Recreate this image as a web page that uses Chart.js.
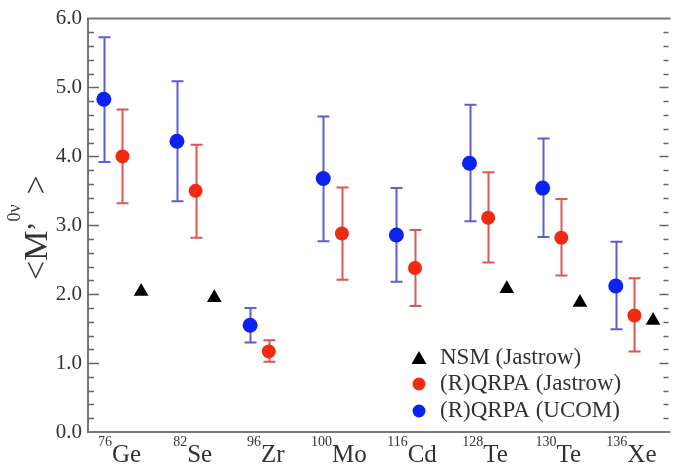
<!DOCTYPE html>
<html>
<head>
<meta charset="utf-8">
<script src="https://cdn.jsdelivr.net/npm/chart.js@4.4.1/dist/chart.umd.min.js"></script>
<style>
  html, body { margin: 0; padding: 0; background: #fff; }
  #wrap { width: 677px; height: 466px; }
</style>
</head>
<body>
<div id="wrap"><canvas id="nmeChart" width="677" height="466"></canvas></div>
<script>
// nuclei: mass number + element
const massNumbers = ['76', '82', '96', '100', '116', '128', '130', '136'];
const elements = ['Ge', 'Se', 'Zr', 'Mo', 'Cd', 'Te', 'Te', 'Xe'];

// (R)QRPA (UCOM) - blue
const ucomVal = [4.83, 4.22, 1.55, 3.68, 2.86, 3.90, 3.54, 2.12];
const ucomHi  = [5.73, 5.09, 1.80, 4.58, 3.54, 4.75, 4.26, 2.76];
const ucomLo  = [3.92, 3.35, 1.30, 2.77, 2.18, 3.06, 2.83, 1.49];

// (R)QRPA (Jastrow) - red
const jasVal = [4.00, 3.50, 1.17, 2.88, 2.38, 3.11, 2.82, 1.69];
const jasHi  = [4.68, 4.17, 1.33, 3.55, 2.93, 3.77, 3.38, 2.23];
const jasLo  = [3.32, 2.82, 1.02, 2.21, 1.83, 2.46, 2.27, 1.17];

// NSM (Jastrow) - black triangles
const nsmVal = [2.04, 1.95, null, null, null, 2.08, 1.88, 1.62];

const yTicks = [0, 1, 2, 3, 4, 5, 6];

const BLUE = '#0b22f2', RED = '#f22a12';
const BLUE_BAR = '#5b5fd2', RED_BAR = '#de5656';
const SHIFT = 0.255; // offset of blue / triangle from the red point

document.addEventListener("DOMContentLoaded", () => {
  const pts = (vals, dx) => vals.map((v, i) => v == null ? null : { x: i + dx, y: v }).filter(p => p);

  const extras = {
    id: 'extras',
    beforeDatasetsDraw(chart) {
      const { ctx, chartArea: a, scales: { x, y } } = chart;
      ctx.save();
      // frame
      ctx.strokeStyle = '#777';
      ctx.lineWidth = 2;
      ctx.beginPath();
      ctx.moveTo(a.right + 2, a.top); ctx.lineTo(a.left, a.top);
      ctx.lineTo(a.left, a.bottom); ctx.lineTo(a.right + 2, a.bottom);
      ctx.stroke();
      // inward ticks, left and right
      ctx.strokeStyle = '#666';
      ctx.lineWidth = 1.6;
      for (let k = 1; k < 30; k++) {
        const py = Math.round(y.getPixelForValue(k / 5)) + 0.5;
        const major = k % 5 === 0;
        ctx.beginPath();
        ctx.moveTo(a.left, py); ctx.lineTo(a.left + (major ? 11 : 6), py);
        ctx.moveTo(a.right, py); ctx.lineTo(a.right - (major ? 9 : 5), py);
        ctx.stroke();
      }
      // error bars
      const bars = (lo, hi, dx, col) => {
        ctx.strokeStyle = col;
        ctx.lineWidth = 2;
        lo.forEach((l, i) => {
          const px = Math.round(x.getPixelForValue(i + dx)) + 0.5;
          const p1 = y.getPixelForValue(l), p2 = y.getPixelForValue(hi[i]);
          ctx.beginPath();
          ctx.moveTo(px, p1); ctx.lineTo(px, p2);
          ctx.moveTo(px - 6, p1); ctx.lineTo(px + 6, p1);
          ctx.moveTo(px - 6, p2); ctx.lineTo(px + 6, p2);
          ctx.stroke();
        });
      };
      bars(ucomLo, ucomHi, -SHIFT, BLUE_BAR);
      bars(jasLo, jasHi, 0, RED_BAR);
      ctx.restore();
    },
    afterDraw(chart) {
      const { ctx, scales: { x } } = chart;
      ctx.save();
      ctx.fillStyle = '#333';
      ctx.textBaseline = 'alphabetic';
      ctx.textAlign = 'left';
      // x labels with superscript mass numbers
      massNumbers.forEach((m, i) => {
        ctx.font = '14px "Liberation Serif"';
        const w1 = ctx.measureText(m).width;
        ctx.font = '25px "Liberation Serif"';
        const w2 = ctx.measureText(elements[i]).width;
        const x0 = x.getPixelForValue(i) - 3 - (w1 + w2) / 2;
        ctx.font = '14px "Liberation Serif"';
        ctx.fillText(m, x0, 446);
        ctx.font = '25px "Liberation Serif"';
        ctx.fillText(elements[i], x0 + w1, 462);
      });

      // legend
      const lx = 419, tx = 440;
      const rows = [358, 384, 411];
      ctx.fillStyle = '#000';
      ctx.beginPath();
      ctx.moveTo(lx, rows[0] - 7); ctx.lineTo(lx + 7.5, rows[0] + 6); ctx.lineTo(lx - 7.5, rows[0] + 6);
      ctx.closePath(); ctx.fill();
      ctx.fillStyle = RED;
      ctx.beginPath(); ctx.arc(lx, rows[1], 6.5, 0, Math.PI * 2); ctx.fill();
      ctx.fillStyle = BLUE;
      ctx.beginPath(); ctx.arc(lx, rows[2], 6.5, 0, Math.PI * 2); ctx.fill();
      ctx.fillStyle = '#333';
      ctx.font = '23px "Liberation Serif"';
      ctx.textBaseline = 'middle';
      ctx.fillText('NSM (Jastrow)', tx, rows[0]);
      ctx.fillText('(R)QRPA (Jastrow)', tx, rows[1]);
      ctx.fillText('(R)QRPA (UCOM)', tx, rows[2]);

      // y title <M'^0ν>, rotated
      ctx.translate(47, 280);
      ctx.rotate(-Math.PI / 2);
      ctx.textBaseline = 'alphabetic';
      let cx = 0;
      const put = (s, size, dy) => {
        ctx.font = size + 'px "Liberation Serif"';
        ctx.fillText(s, cx, dy);
        cx += ctx.measureText(s).width;
      };
      put('<M', 34, 0);
      cx -= 1;
      put('\u2019', 30, 0);
      put('0\u03bd', 18, -27);
      cx += 10;
      put('>', 34, 0);
      ctx.restore();
    }
  };

  new Chart(document.getElementById('nmeChart'), {
    type: 'scatter',
    data: {
      datasets: [
        { label: 'NSM (Jastrow)', data: pts(nsmVal, SHIFT), pointStyle: 'triangle',
          pointRadius: 8.5, backgroundColor: '#000', borderColor: '#000', borderWidth: 0 },
        { label: '(R)QRPA (Jastrow)', data: pts(jasVal, 0), pointStyle: 'circle',
          pointRadius: 7, backgroundColor: RED, borderColor: RED, borderWidth: 0 },
        { label: '(R)QRPA (UCOM)', data: pts(ucomVal, -SHIFT), pointStyle: 'circle',
          pointRadius: 7.5, backgroundColor: BLUE, borderColor: BLUE, borderWidth: 0 }
      ]
    },
    options: {
      responsive: false,
      animation: false,
      layout: { padding: { top: 16, right: 0, bottom: 34, left: 0 } },
      plugins: { legend: { display: false }, tooltip: { enabled: false } },
      scales: {
        x: { type: 'linear', display: false, min: -0.4717, max: 7.466 },
        y: {
          min: 0, max: 6,
          afterBuildTicks: s => { s.ticks = yTicks.map(v => ({ value: v })); },
          afterFit: s => { s.width = 88; },
          grid: { display: false, drawTicks: false, tickLength: 0 },
          border: { display: false },
          ticks: { padding: 6, color: '#333', font: { family: 'Liberation Serif', size: 21 },
                   callback: v => v.toFixed(1) }
        }
      }
    },
    plugins: [extras]
  });
});
</script>
</body>
</html>
